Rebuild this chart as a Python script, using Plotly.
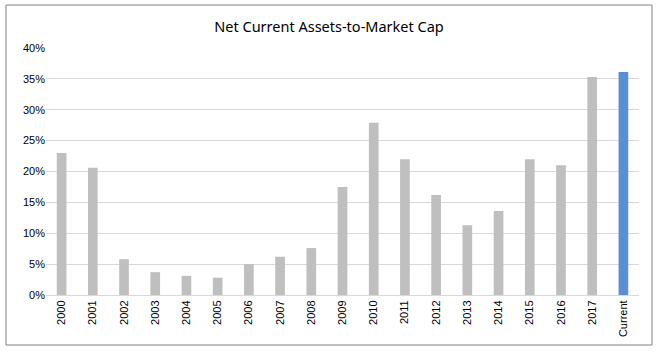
import plotly.graph_objects as go

categories = ["2000", "2001", "2002", "2003", "2004", "2005", "2006", "2007", "2008", "2009",
              "2010", "2011", "2012", "2013", "2014", "2015", "2016", "2017", "Current"]
values = [0.230, 0.206, 0.058, 0.037, 0.031, 0.028, 0.050, 0.062, 0.076, 0.175,
          0.279, 0.220, 0.162, 0.113, 0.136, 0.220, 0.210, 0.353, 0.361]
bar_colors = ["#BFBFBF"] * 18 + ["#5B8FD3"]
y_ticks = [0, 0.05, 0.10, 0.15, 0.20, 0.25, 0.30, 0.35, 0.40]
y_tick_labels = ["0%", "5%", "10%", "15%", "20%", "25%", "30%", "35%", "40%"]

fig = go.Figure(go.Bar(x=categories, y=values, marker=dict(color=bar_colors, line=dict(width=0))))

fig.update_layout(
    width=658, height=356,
    margin=dict(l=46, r=19, t=48, b=61),
    paper_bgcolor="white", plot_bgcolor="white",
    bargap=0.69,
    showlegend=False,
    font=dict(family="Liberation Sans, Arial, sans-serif", color="#404040", size=11),
    title=dict(text="Net Current Assets-to-Market Cap", x=0.5, xanchor="center",
               y=1 - 27 / 356, yanchor="middle",
               font=dict(size=14.5, color="#000000", family="Noto Sans, Open Sans, sans-serif")),
    xaxis=dict(type="category", tickangle=-90, showgrid=False, showline=True,
               linecolor="#D9D9D9", linewidth=1, ticks="", tickfont=dict(size=11, color="#000000")),
    yaxis=dict(range=[0, 0.4], tickvals=y_ticks, ticktext=y_tick_labels, showgrid=True,
               gridcolor="#D9D9D9", gridwidth=1, zeroline=False, showline=False, ticks="",
               tickfont=dict(size=11, color="#000000")),
    shapes=[dict(type="rect", xref="paper", yref="paper",
                 x0=-40 / 593, x1=1 + 13 / 593, y0=-50 / 247, y1=1 + 43 / 247,
                 line=dict(color="#808080", width=1))],
)

fig.write_html("out.html", config={"displayModeBar": False},
               post_script="document.body.style.margin='0';document.body.style.overflow='hidden';")
